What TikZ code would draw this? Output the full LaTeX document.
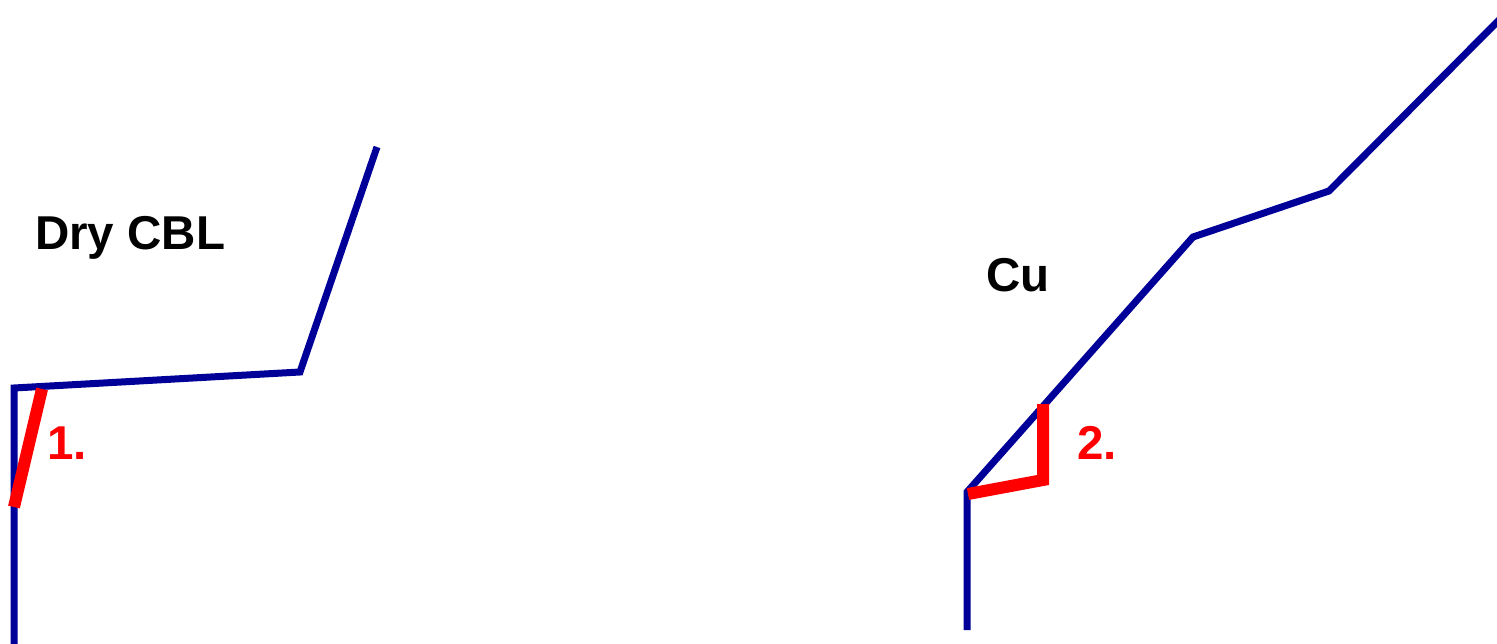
\documentclass[tikz,border=0pt]{standalone}
\usepackage{fontspec}
\setmainfont{Liberation Sans}
\definecolor{lineblue}{RGB}{0,0,153}
\definecolor{markred}{RGB}{255,0,0}
\begin{document}
\begin{tikzpicture}[x=1pt,y=-1pt,
  curve/.style={draw=lineblue,line width=7pt,line join=miter},
  marker/.style={draw=markred,line width=12pt,line join=miter},
  lbl/.style={font=\fontsize{47.5}{52}\selectfont\bfseries,inner sep=0pt,anchor=base west},
  redlbl/.style={lbl,text=markred}]
\useasboundingbox (0,0) rectangle (1497,644);
% left curve
\coordinate (a0) at (14,646);
\coordinate (a1) at (14,388);
\coordinate (a2) at (300,372);
\coordinate (a3) at (377,147);
\draw[curve] (a0) -- (a1) -- (a2) -- (a3);
% marker 1
\coordinate (r1a) at (14,507);
\coordinate (r1b) at (42,389);
\draw[marker] (r1a) -- (r1b);
% right curve
\coordinate (b0) at (967,630);
\coordinate (b1) at (967,492);
\coordinate (b2) at (1193,237);
\coordinate (b3) at (1329,191);
\coordinate (b4) at (1502,17);
\draw[curve] (b0) -- (b1) -- (b2) -- (b3) -- (b4);
% marker 2
\coordinate (r2a) at (968,494);
\coordinate (r2b) at (1043,480);
\coordinate (r2c) at (1043,404);
\draw[marker] (r2a) -- (r2b) -- (r2c);
% labels
\node[lbl] (dry) at (35,250) {Dry CBL};
\node[lbl] (cu) at (986,292) {Cu};
\node[redlbl] (one) at (47,459) {1.};
\node[redlbl] (two) at (1077,459) {2.};
\end{tikzpicture}
\end{document}
